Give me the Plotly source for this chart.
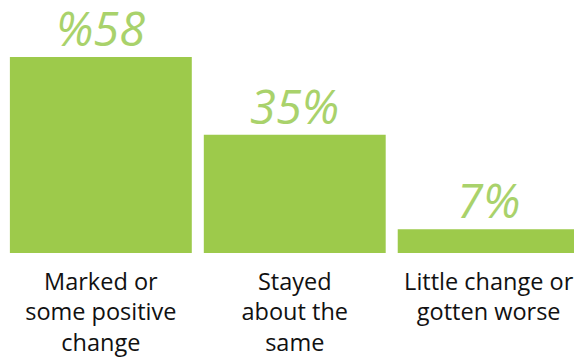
import plotly.graph_objects as go

categories = ["Marked or<br>some positive<br>change", "Stayed<br>about the<br>same", "Little change or<br>gotten worse"]
values = [58, 35, 7]
value_labels = ["%58", "35%", "7%"]

bar_color = "#9DCA4B"
text_color = "#A9D26B"

fig = go.Figure()
fig.add_trace(go.Bar(
    x=[0, 1, 2],
    y=values,
    marker=dict(color=bar_color, line=dict(width=0)),
    width=0.938,
    hoverinfo="skip",
))

for i, (v, t) in enumerate(zip(values, value_labels)):
    fig.add_annotation(
        x=i, y=v, text=t, showarrow=False, xanchor="center", yanchor="bottom",
        yshift=-4, borderpad=0,
        font=dict(family="Open Sans", size=47, color=text_color, style="italic", weight=400),
    )

fig.update_layout(
    width=574, height=360,
    margin=dict(l=0, r=0, t=0, b=107),
    paper_bgcolor="white", plot_bgcolor="white",
    showlegend=False,
    xaxis=dict(
        range=[-0.52, 2.44],
        tickmode="array", tickvals=[0, 1, 2], ticktext=categories,
        showgrid=False, zeroline=False, showline=False, ticks="",
        ticklabelstandoff=12, ticklabeloverflow="allow",
        tickfont=dict(family="Open Sans", size=23.5, color="#111111"),
    ),
    yaxis=dict(range=[0, 74.9], visible=False, showgrid=False, zeroline=False),
)

fig.write_html("out.html")
